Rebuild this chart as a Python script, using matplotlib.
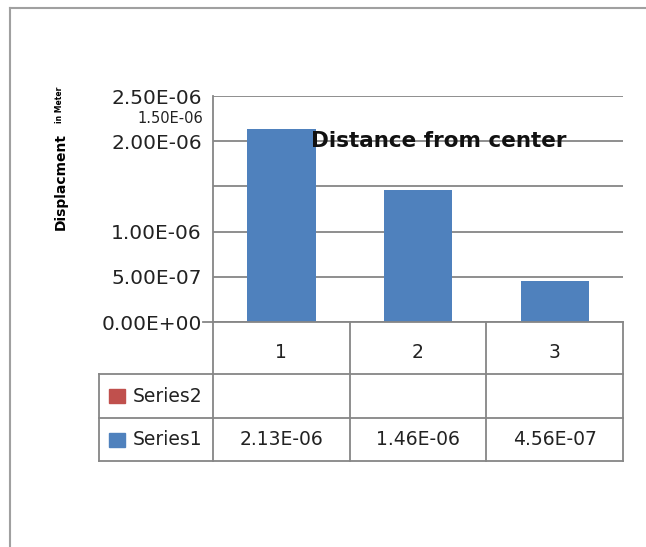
import matplotlib
matplotlib.use("Agg")
import matplotlib.pyplot as plt
from matplotlib.lines import Line2D
from matplotlib.patches import Rectangle

plt.rcParams['font.family'] = ['DejaVu Sans']

categories = ["1", "2", "3"]
series_names = ["Series2", "Series1"]
series1 = [2.13e-06, 1.46e-06, 4.56e-07]
series2 = [None, None, None]   # empty series in the data table
y_ticks = [0, 5e-07, 1e-06, 1.5e-06, 2e-06, 2.5e-06]

W, H = 646, 547
blue = "#4F81BD"
red = "#C0504D"
grid_col = "#868686"
txt = "#222222"


def fx(px):
    return px / W


def fy(py):
    return 1 - py / H


fig = plt.figure(figsize=(W / 100, H / 100), dpi=100)

# outer chart frame (only top and left edges visible)
fig.add_artist(Line2D([fx(10), fx(10)], [fy(8), fy(547)], color="#A0A0A0", lw=1.5))
fig.add_artist(Line2D([fx(10), fx(645)], [fy(8), fy(8)], color="#A0A0A0", lw=1.5))

ax_l, ax_r, ax_t, ax_b = 213, 623, 96, 322
ax = fig.add_axes([fx(ax_l), fy(ax_b), fx(ax_r - ax_l), (ax_b - ax_t) / H])

x = list(range(len(categories)))
ax.bar(x, series1, width=0.5, color=blue, zorder=3)
ax.set_xlim(-0.5, len(categories) - 0.5)
ax.set_ylim(0, 2.5e-06)

ax.set_yticks(y_ticks)
ax.set_yticklabels(["" if abs(v - 1.5e-06) < 1e-12 else "%.2E" % v for v in y_ticks],
                   fontsize=14.5, color=txt)
ax.tick_params(axis="y", length=0, pad=8)
ax.tick_params(axis="x", length=0, labelbottom=False)
ax.yaxis.grid(True, color=grid_col, lw=1.3, zorder=1)
for s in ["top", "right", "bottom"]:
    ax.spines[s].set_visible(False)
ax.spines["left"].set_color(grid_col)
ax.spines["left"].set_linewidth(1.3)
# short stub of the zero line left of the axis
ax.plot([-0.575, -0.5], [0, 0], color=grid_col, lw=1.3, clip_on=False)

# the stray 1.5E-06 label that sits just under 2.50E-06
ax.text(-0.025, 2.25e-06, "%.2E" % 1.5e-06, transform=ax.get_yaxis_transform(),
        ha="right", va="center", fontsize=10.5, color=txt)

ax.text(0.55, 2.0e-06, "Distance from center", transform=ax.get_yaxis_transform(),
        ha="center", va="center", fontsize=15.5, fontweight="bold", color="#111111",
        zorder=5)

# y axis title, narrow bold, with the squashed unit on top
fig.text(fx(61), fy(181), "Displacment", rotation=90, ha="center", va="center",
         fontsize=10, fontweight="bold",
         family=["Liberation Sans Narrow", "DejaVu Sans"])
fig.text(fx(60), fy(105), "in Meter", rotation=90, ha="center", va="center",
         fontsize=5.5, fontweight="bold",
         family=["Liberation Sans Narrow", "DejaVu Sans"])

# data table below the plot
col_edges = [ax_l + (ax_r - ax_l) * i / len(categories) for i in range(len(categories) + 1)]
row_edges = [322, 374, 418, 461]
tbl_left = 99
tc = grid_col
for xe in col_edges:
    fig.add_artist(Line2D([fx(xe)] * 2, [fy(row_edges[0]), fy(row_edges[-1])], color=tc, lw=1.3))
fig.add_artist(Line2D([fx(tbl_left)] * 2, [fy(row_edges[1]), fy(row_edges[-1])], color=tc, lw=1.3))
fig.add_artist(Line2D([fx(ax_l), fx(ax_r)], [fy(row_edges[0])] * 2, color=tc, lw=1.3))
for ye in row_edges[1:]:
    fig.add_artist(Line2D([fx(tbl_left), fx(ax_r)], [fy(ye)] * 2, color=tc, lw=1.3))

for i, c in enumerate(categories):
    cx = (col_edges[i] + col_edges[i + 1]) / 2
    fig.text(fx(cx), fy((row_edges[0] + row_edges[1]) / 2 + 4), c, ha="center", va="center",
             fontsize=13.5, color=txt)

rows = [(series_names[0], red, series2), (series_names[1], blue, series1)]
for r, (name, col, vals) in enumerate(rows):
    cy = (row_edges[r + 1] + row_edges[r + 2]) / 2
    fig.add_artist(Rectangle((fx(109), fy(cy + 7)), fx(16), 14 / H, color=col))
    fig.text(fx(133), fy(cy), name, ha="left", va="center", fontsize=13.5, color=txt)
    for i, v in enumerate(vals):
        if v is None:
            continue
        cx = (col_edges[i] + col_edges[i + 1]) / 2
        fig.text(fx(cx), fy(cy), "%.2E" % v, ha="center", va="center",
                 fontsize=13.5, color=txt)

fig.savefig("out.png", dpi=100)
